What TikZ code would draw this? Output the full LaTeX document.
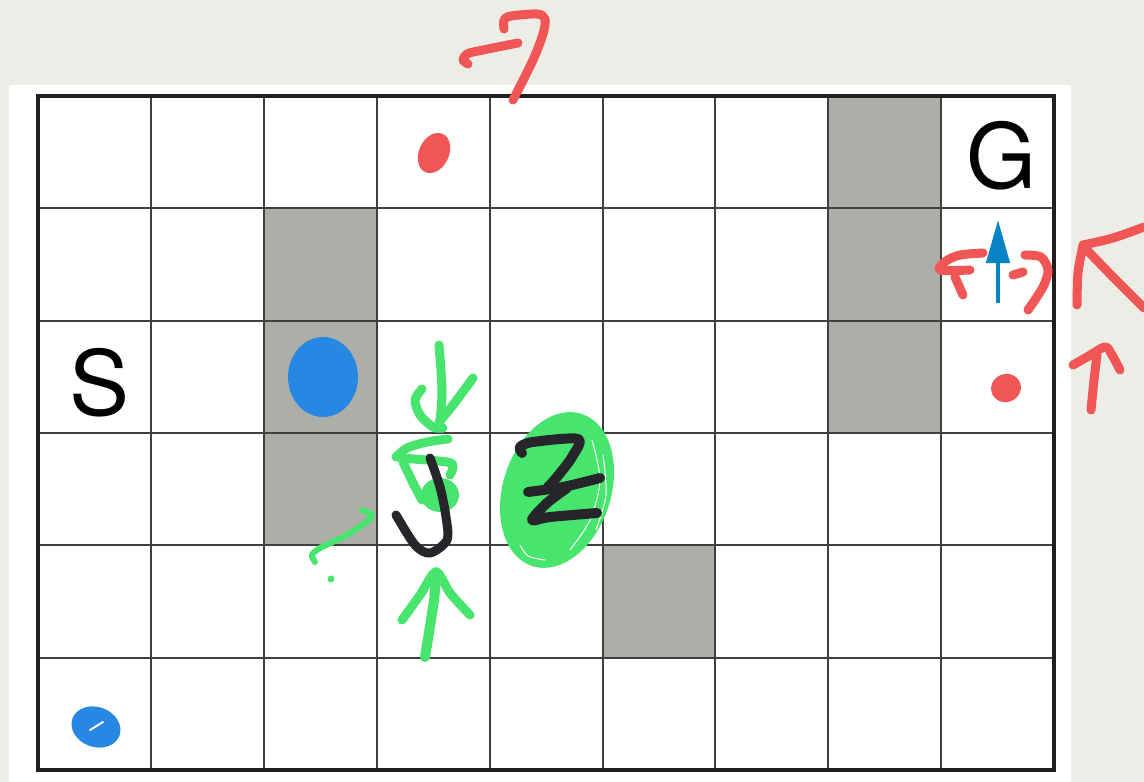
\documentclass[tikz,border=0pt]{standalone}
\usepackage{fontspec}
\setmainfont{TeX Gyre Heros}
\usepackage{xcolor}
\usetikzlibrary{arrows.meta}

\definecolor{paper}{RGB}{237,237,232}
\definecolor{wallgrey}{RGB}{174,174,168}
\definecolor{penred}{RGB}{240,86,86}
\definecolor{pengreen}{RGB}{72,229,110}
\definecolor{penblue}{RGB}{38,136,226}
\definecolor{arrowblue}{RGB}{8,132,198}
\definecolor{penblack}{RGB}{38,38,42}

\begin{document}
\begin{tikzpicture}[x=1pt, y=-1pt,
  wall/.style={fill=wallgrey},
  gridline/.style={draw=black!75, line width=2},
  border/.style={draw=black!88, line width=3.5},
  cellmark/.style={font=\fontsize{90}{92}\selectfont, inner sep=0pt},
  pen/.style={line width=9, line cap=round, line join=round},
  redpen/.style={pen, draw=penred},
  greenpen/.style={pen, draw=pengreen},
  blackpen/.style={pen, draw=penblack}
]
\fill[paper] (0,0) rectangle (1144,782);
\useasboundingbox (0,0) rectangle (1144,782);
\fill[white] (9,85) rectangle (1071,782);

% maze
\foreach \c/\r in {2/1,2/2,2/3,7/0,7/1,7/2,5/4}
  \fill[wall] (38+112.9*\c,96+112.33*\r) rectangle ++(112.9,112.33);
\foreach \i in {1,...,8}
  \draw[gridline] (38+112.9*\i,96) -- (38+112.9*\i,770);
\foreach \j in {1,...,5}
  \draw[gridline] (38,96+112.33*\j) -- (1054,96+112.33*\j);
\draw[border] (38,96) rectangle (1054,770);

\node[cellmark] (start) at (100,383) {S};
\node[cellmark] (goal) at (1002,156) {G};

\draw[arrowblue, line width=4.5, -{Triangle[length=43pt, width=23pt]}] (998,303) -- (998,220);

% red notes
\draw[redpen] plot[smooth] coordinates {(468,64) (463,60) (467,54) (478,51) (518,43)};
\draw[redpen] plot[smooth] coordinates {(504,29) (504,20) (511,16) (537,14) (545,19) (543,34) (533,60) (513,100)};
\fill[penred, rotate around={-25:(434,153)}] (434,153) ellipse [x radius=15, y radius=21];

\draw[redpen] plot[smooth] coordinates {(983,253) (960,255) (946,261) (940,270) (970,270)};
\draw[redpen] plot[smooth] coordinates {(955,277) (963,295)};
\draw[redpen] (1013,275) -- (1023,272);
\draw[redpen] plot[smooth] coordinates {(1025,255) (1041,257) (1048,270) (1043,287) (1028,310)};

\draw[redpen] plot[smooth] coordinates {(1144,227) (1113,238) (1083,245)};
\draw[redpen] plot[smooth] coordinates {(1083,245) (1078,273) (1077,305)};
\draw[redpen] plot[smooth] coordinates {(1083,246) (1113,277) (1144,308)};

\draw[redpen] plot[smooth] coordinates {(1091,410) (1094,380) (1097,355)};
\draw[redpen] plot[smooth] coordinates {(1073,365) (1087,357) (1105,347) (1112,355) (1120,370)};
\fill[penred, rotate around={20:(1006,388)}] (1006,388) ellipse [x radius=15, y radius=14];

% blue blobs
\fill[penblue] (323,377) ellipse [x radius=35, y radius=40];
\fill[penblue, rotate around={-20:(96,727)}] (96,727) ellipse [x radius=25, y radius=20];
\draw[white, line width=2, line cap=round] (90,730) -- (103,722);

% green notes
\fill[pengreen, rotate around={-18:(557,490)}] (557,490) ellipse [x radius=54, y radius=80];
\draw[white, line width=1] plot[smooth] coordinates {(592,440) (600,480) (590,520) (570,550)};
\draw[white, line width=1] plot[smooth] coordinates {(603,455) (606,495) (596,530)};
\draw[white, line width=1] plot[smooth] coordinates {(520,545) (528,556) (545,560)};

\draw[greenpen] plot[smooth] coordinates {(439,345) (442,390) (440,422)};
\draw[greenpen] plot[smooth] coordinates {(473,378) (453,405) (439,422)};
\draw[greenpen] plot[smooth] coordinates {(422,389) (415,400) (420,415) (433,427) (443,428)};

\draw[greenpen] plot[smooth] coordinates {(448,439) (427,442) (407,448) (396,457)};
\draw[greenpen] plot[smooth] coordinates {(400,458) (447,462) (453,467) (450,475)};
\draw[greenpen] plot[smooth] coordinates {(403,462) (413,483) (422,500)};
\fill[pengreen] (440,495) ellipse [x radius=19, y radius=17];

\draw[greenpen, line width=10] plot[smooth] coordinates {(425,657) (434,600) (436,572)};
\draw[greenpen] plot[smooth] coordinates {(402,620) (420,595) (436,572) (450,593) (470,615)};

\draw[greenpen, line width=6] plot[smooth] coordinates {(315,562) (312,555) (320,548) (343,537) (365,523) (372,515) (362,510)};
\fill[pengreen] (331,579) circle [radius=3.5];

% black notes
\draw[blackpen] plot[smooth] coordinates {(430,458) (440,487) (446,517) (447,540) (430,553) (415,545) (396,515)};
\draw[blackpen, line width=10] plot[smooth] coordinates {(522,453) (520,447) (533,442) (578,439) (572,457) (557,477) (548,487)};
\draw[blackpen, line width=10] plot[smooth] coordinates {(528,492) (563,487) (600,478)};
\draw[blackpen, line width=10] plot[smooth] coordinates {(567,488) (547,503) (532,520) (550,517) (597,513)};
\end{tikzpicture}
\end{document}
